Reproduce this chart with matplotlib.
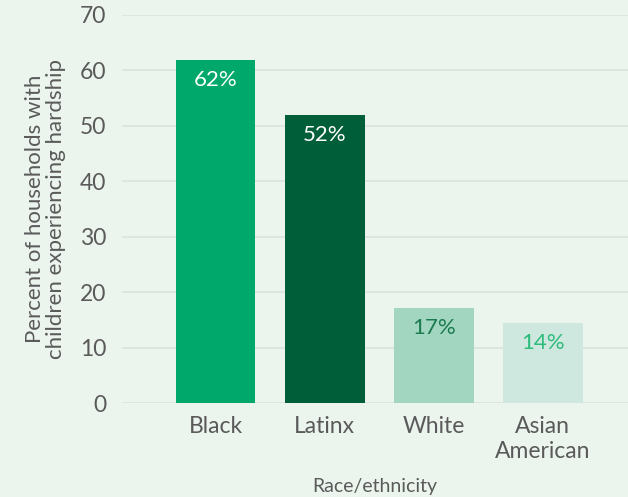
import matplotlib.pyplot as plt

categories = ['Black', 'Latinx', 'White', 'Asian\nAmerican']
values = [61.8, 52, 17.1, 14.4]
labels = ['62%', '52%', '17%', '14%']
bar_colors = ['#00a86b', '#005f38', '#a3d6c0', '#cfe8df']
label_colors = ['white', 'white', '#1b7a4e', '#2dbb7c']

plt.rcParams['font.family'] = ['Lato', 'DejaVu Sans']
bg = '#ebf5ee'
grey = '#5a5a5a'

fig = plt.figure(figsize=(6.28, 4.97), dpi=100, facecolor=bg)
ax = fig.add_axes([0.194, 0.189, 0.806, 0.781], facecolor=bg)

x = list(range(len(categories)))
ax.bar(x, values, width=0.73, color=bar_colors, zorder=3)

# value labels inside the bars
for xi, v, lab, c in zip(x, values, labels, label_colors):
    ax.text(xi, v - 1.8, lab, ha='center', va='top', fontsize=16, color=c, zorder=4)

ax.set_ylim(0, 70)
ax.set_xlim(-0.86, 3.78)
ax.set_yticks(range(0, 71, 10))
ax.set_xticks(x)
ax.set_xticklabels(categories, fontsize=16.5, color=grey, linespacing=1.25)
ax.tick_params(axis='y', labelsize=16.5, labelcolor=grey, length=0, pad=11)
ax.tick_params(axis='x', length=0, pad=9)

ax.grid(axis='y', color='#d9e2dd', linewidth=1.2, zorder=0)
for s in ax.spines.values():
    s.set_visible(False)

ax.set_xlabel('Race/ethnicity', fontsize=14, color=grey, labelpad=12)
ax.set_ylabel('Percent of households with\nchildren experiencing hardship',
              fontsize=16, color=grey, labelpad=10, linespacing=1.05)

fig.savefig('out.png', dpi=100, facecolor=bg)
